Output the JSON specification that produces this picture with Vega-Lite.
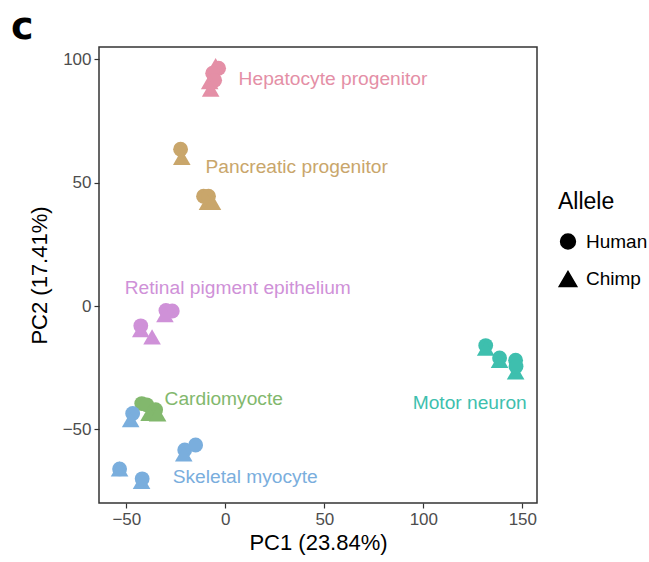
{
  "$schema": "https://vega.github.io/schema/vega-lite/v6.json",
  "width": 438,
  "height": 456,
  "autosize": "none",
  "padding": {"left": 99, "top": 47, "right": 112, "bottom": 59},
  "background": "white",
  "title": {"text": "c", "anchor": "start", "frame": "group", "font": "DejaVu Sans", "fontSize": 38, "fontWeight": "bold", "color": "black", "dx": -88, "dy": 0, "offset": 0},
  "config": {
    "font": "Liberation Sans",
    "view": {"stroke": "#333333", "strokeWidth": 1.5},
    "axis": {"grid": false, "domain": false, "tickColor": "#333333", "tickSize": 5, "tickWidth": 1.2, "labelColor": "#4d4d4d", "labelFontSize": 17, "labelFont": "Liberation Sans", "titleFont": "Liberation Sans", "titleFontSize": 22, "titleFontWeight": "normal", "titleColor": "black"}
  },
  "datasets": {
    "points": [
      {"cell": "Hepatocyte progenitor", "allele": "Human", "PC1": -3.4, "PC2": 96.4},
      {"cell": "Hepatocyte progenitor", "allele": "Chimp", "PC1": -4.9, "PC2": 97.5},
      {"cell": "Hepatocyte progenitor", "allele": "Human", "PC1": -6.4, "PC2": 94.4},
      {"cell": "Hepatocyte progenitor", "allele": "Human", "PC1": -5.4, "PC2": 91.5},
      {"cell": "Hepatocyte progenitor", "allele": "Chimp", "PC1": -7.9, "PC2": 91.0},
      {"cell": "Hepatocyte progenitor", "allele": "Chimp", "PC1": -7.4, "PC2": 87.9},
      {"cell": "Pancreatic progenitor", "allele": "Human", "PC1": -22.6, "PC2": 63.6},
      {"cell": "Pancreatic progenitor", "allele": "Chimp", "PC1": -22.0, "PC2": 60.3},
      {"cell": "Pancreatic progenitor", "allele": "Human", "PC1": -11.0, "PC2": 44.5},
      {"cell": "Pancreatic progenitor", "allele": "Human", "PC1": -8.5, "PC2": 44.5},
      {"cell": "Pancreatic progenitor", "allele": "Chimp", "PC1": -9.0, "PC2": 42.0},
      {"cell": "Pancreatic progenitor", "allele": "Chimp", "PC1": -6.5, "PC2": 42.0},
      {"cell": "Retinal pigment epithelium", "allele": "Human", "PC1": -26.8, "PC2": -2.0},
      {"cell": "Retinal pigment epithelium", "allele": "Human", "PC1": -30.0, "PC2": -1.8},
      {"cell": "Retinal pigment epithelium", "allele": "Chimp", "PC1": -30.5, "PC2": -3.5},
      {"cell": "Retinal pigment epithelium", "allele": "Human", "PC1": -42.7, "PC2": -8.0},
      {"cell": "Retinal pigment epithelium", "allele": "Chimp", "PC1": -42.7, "PC2": -9.5},
      {"cell": "Retinal pigment epithelium", "allele": "Chimp", "PC1": -37.0, "PC2": -12.5},
      {"cell": "Cardiomyocyte", "allele": "Human", "PC1": -42.2, "PC2": -39.5},
      {"cell": "Cardiomyocyte", "allele": "Human", "PC1": -39.7, "PC2": -40.0},
      {"cell": "Cardiomyocyte", "allele": "Human", "PC1": -35.2, "PC2": -42.0},
      {"cell": "Cardiomyocyte", "allele": "Chimp", "PC1": -38.5, "PC2": -43.5},
      {"cell": "Cardiomyocyte", "allele": "Chimp", "PC1": -34.2, "PC2": -43.7},
      {"cell": "Skeletal myocyte", "allele": "Human", "PC1": -46.8, "PC2": -43.5},
      {"cell": "Skeletal myocyte", "allele": "Chimp", "PC1": -47.8, "PC2": -46.0},
      {"cell": "Skeletal myocyte", "allele": "Human", "PC1": -20.5, "PC2": -58.3},
      {"cell": "Skeletal myocyte", "allele": "Human", "PC1": -15.0, "PC2": -56.3},
      {"cell": "Skeletal myocyte", "allele": "Chimp", "PC1": -21.0, "PC2": -59.9},
      {"cell": "Skeletal myocyte", "allele": "Human", "PC1": -53.4, "PC2": -66.0},
      {"cell": "Skeletal myocyte", "allele": "Chimp", "PC1": -53.4, "PC2": -66.0},
      {"cell": "Skeletal myocyte", "allele": "Chimp", "PC1": -42.3, "PC2": -71.0},
      {"cell": "Skeletal myocyte", "allele": "Human", "PC1": -42.0, "PC2": -70.0},
      {"cell": "Motor neuron", "allele": "Human", "PC1": 131.5, "PC2": -16.0},
      {"cell": "Motor neuron", "allele": "Chimp", "PC1": 131.5, "PC2": -17.0},
      {"cell": "Motor neuron", "allele": "Human", "PC1": 138.5, "PC2": -21.0},
      {"cell": "Motor neuron", "allele": "Chimp", "PC1": 138.5, "PC2": -22.0},
      {"cell": "Motor neuron", "allele": "Human", "PC1": 146.6, "PC2": -21.9},
      {"cell": "Motor neuron", "allele": "Chimp", "PC1": 146.6, "PC2": -26.7},
      {"cell": "Motor neuron", "allele": "Human", "PC1": 146.8, "PC2": -24.5}
    ],
    "labels": [
      {"cell": "Hepatocyte progenitor", "label": "Hepatocyte progenitor", "PC1": 6.7, "PC2": 91.9},
      {"cell": "Pancreatic progenitor", "label": "Pancreatic progenitor", "PC1": -10.0, "PC2": 56.3},
      {"cell": "Retinal pigment epithelium", "label": "Retinal pigment epithelium", "PC1": -50.8, "PC2": 7.3},
      {"cell": "Cardiomyocyte", "label": "Cardiomyocte", "PC1": -30.7, "PC2": -37.7},
      {"cell": "Skeletal myocyte", "label": "Skeletal myocyte", "PC1": -26.6, "PC2": -69.2},
      {"cell": "Motor neuron", "label": "Motor neuron", "PC1": 94.6, "PC2": -39.3}
    ]
  },
  "encoding": {
    "x": {"field": "PC1", "type": "quantitative", "title": "PC1 (23.84%)", "scale": {"domain": [-63.8, 157.4], "nice": false, "zero": false}, "axis": {"values": [-50, 0, 50, 100, 150], "labelPadding": 3, "titlePadding": 5}},
    "y": {"field": "PC2", "type": "quantitative", "title": "PC2 (17.41%)", "scale": {"domain": [-79.8, 105], "nice": false, "zero": false}, "axis": {"values": [-50, 0, 50, 100], "labelPadding": 3, "titlePadding": 11}},
    "color": {"field": "cell", "type": "nominal", "legend": null, "scale": {
      "domain": ["Hepatocyte progenitor", "Pancreatic progenitor", "Retinal pigment epithelium", "Cardiomyocyte", "Skeletal myocyte", "Motor neuron"],
      "range": ["#E48FA6", "#C9A66B", "#CF91D8", "#82B86D", "#7AAEDD", "#3EBFAE"]}}
  },
  "layer": [
    {
      "data": {"name": "points"},
      "mark": {"type": "point", "filled": true, "opacity": 1},
      "encoding": {
        "shape": {"field": "allele", "type": "nominal", "title": "Allele",
          "scale": {"domain": ["Human", "Chimp"], "range": ["circle", "triangle-up"]},
          "legend": {"orient": "none", "legendX": 459, "legendY": 144, "titleFontSize": 23, "titleFontWeight": "normal", "titleColor": "black", "titleFont": "Liberation Sans", "titlePadding": 18, "labelFontSize": 19, "labelColor": "black", "labelFont": "Liberation Sans", "symbolFillColor": "black", "symbolStrokeColor": "black", "rowPadding": 16, "labelOffset": 8}},
        "size": {"field": "allele", "type": "nominal", "title": "Allele",
          "scale": {"domain": ["Human", "Chimp"], "range": [220, 310]},
          "legend": {"orient": "none", "legendX": 459, "legendY": 144, "titleFontSize": 23, "titleFontWeight": "normal", "titleColor": "black", "titleFont": "Liberation Sans", "titlePadding": 18, "labelFontSize": 19, "labelColor": "black", "labelFont": "Liberation Sans", "symbolFillColor": "black", "symbolStrokeColor": "black", "rowPadding": 16, "labelOffset": 8}}
      }
    },
    {
      "data": {"name": "labels"},
      "mark": {"type": "text", "align": "left", "baseline": "middle", "fontSize": 19.2, "font": "Liberation Sans"},
      "encoding": {"text": {"field": "label"}}
    }
  ]
}
